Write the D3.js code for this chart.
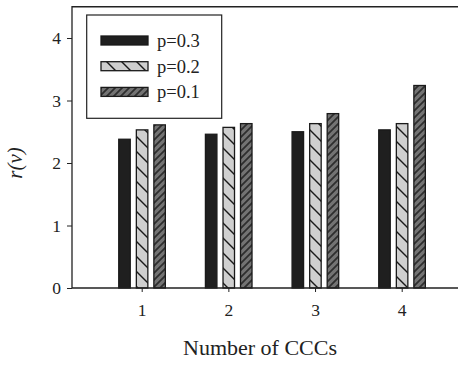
<!DOCTYPE html>
<html>
<head>
<meta charset="utf-8">
<script src="https://cdn.jsdelivr.net/npm/d3@7"></script>
<style>
  body { margin: 0; background: #fff; }
  text { font-family: "Liberation Serif", "DejaVu Serif", serif; fill: #222; }
</style>
</head>
<body>
<div id="container"></div>
<script>
const categories = [1, 2, 3, 4];
const seriesNames = ["p=0.3", "p=0.2", "p=0.1"];
const p03 = [2.38, 2.46, 2.50, 2.53];
const p02 = [2.53, 2.57, 2.63, 2.63];
const p01 = [2.61, 2.63, 2.79, 3.24];
const yTicks = [0, 1, 2, 3, 4];

function init() {
  const width = 458;
  const height = 368;
  const left = 72;
  const right = 458;
  const bottom = 288;
  const top = 6.75;

  const svg = d3.select("#container").append("svg")
    .attr("width", width)
    .attr("height", height);

  const defs = svg.append("defs");

  // light gray, back-slash hatch
  const pat1 = defs.append("pattern")
    .attr("id", "hatchLight")
    .attr("patternUnits", "userSpaceOnUse")
    .attr("width", 15).attr("height", 15);
  pat1.append("rect").attr("width", 15).attr("height", 15).attr("fill", "#cfcfcf");
  pat1.append("path")
    .attr("d", "M-2,-2L17,17M-2,13L2,17M13,-2L17,2")
    .attr("stroke", "#1a1a1a").attr("stroke-width", 1.4);

  // dark gray, forward-slash hatch
  const pat2 = defs.append("pattern")
    .attr("id", "hatchDark")
    .attr("patternUnits", "userSpaceOnUse")
    .attr("width", 7).attr("height", 7);
  pat2.append("rect").attr("width", 7).attr("height", 7).attr("fill", "#737373");
  pat2.append("path")
    .attr("d", "M-1,8L8,-1M-2,2L2,-2M5,9L9,5")
    .attr("stroke", "#2e2e2e").attr("stroke-width", 1.8);

  const fills = ["#1f1f1f", "url(#hatchLight)", "url(#hatchDark)"];
  const offsets = [-17.2, 0.4, 17.9];
  const barW = 11.5;

  const x = d3.scaleLinear().domain([1, 4]).range([141.7, 401.7]);
  const y = d3.scaleLinear().domain([0, 4.5]).range([bottom, top]);

  const series = [p03, p02, p01];

  // bars
  series.forEach((vals, si) => {
    svg.append("g").selectAll("rect")
      .data(categories.map((c, i) => ({ c, v: vals[i] })))
      .join("rect")
      .attr("x", d => x(d.c) + offsets[si] - barW / 2)
      .attr("y", d => y(d.v))
      .attr("width", barW)
      .attr("height", d => y(0) - y(d.v))
      .attr("fill", fills[si])
      .attr("stroke", "#1a1a1a")
      .attr("stroke-width", 1.3);
  });

  // axes
  const yAxis = d3.axisLeft(y).tickValues(yTicks).tickSize(5).tickPadding(6).tickFormat(d3.format("d"));
  const gy = svg.append("g").attr("transform", `translate(${left},0)`).call(yAxis);
  gy.select(".domain").remove();
  gy.selectAll("text").style("font-size", "17.5px").attr("fill", "#222");
  gy.selectAll("line").attr("stroke", "#222");

  const xAxis = d3.axisBottom(x).tickValues(categories).tickSize(4).tickPadding(12).tickFormat(d3.format("d"));
  const gx = svg.append("g").attr("transform", `translate(0,${bottom})`).call(xAxis);
  gx.select(".domain").remove();
  gx.selectAll("text").style("font-size", "17.5px").attr("fill", "#222");
  gx.selectAll("line").attr("stroke", "#222");

  // frame: left, bottom, top spines
  svg.append("path")
    .attr("d", `M${right},${top}H${left}V${bottom}H${right}`)
    .attr("fill", "none")
    .attr("stroke", "#222")
    .attr("stroke-width", 1.3);

  // axis titles
  svg.append("text")
    .attr("x", 260).attr("y", 355)
    .attr("text-anchor", "middle")
    .style("font-size", "22px")
    .text("Number of CCCs");

  svg.append("text")
    .attr("transform", "translate(22,163) rotate(-90)")
    .attr("text-anchor", "middle")
    .style("font-size", "21px")
    .style("font-style", "italic")
    .text("r(v)");

  // legend
  const lg = svg.append("g");
  lg.append("rect")
    .attr("x", 86.7).attr("y", 15)
    .attr("width", 135).attr("height", 103.3)
    .attr("fill", "#fff")
    .attr("stroke", "#222").attr("stroke-width", 1.2);
  seriesNames.forEach((name, i) => {
    const yy = 36 + i * 25.7;
    lg.append("rect")
      .attr("x", 101).attr("y", yy)
      .attr("width", 47).attr("height", 9)
      .attr("fill", fills[i])
      .attr("stroke", "#1a1a1a").attr("stroke-width", 1.3);
    lg.append("text")
      .attr("x", 157).attr("y", yy + 11)
      .style("font-size", "18.5px")
      .text(name);
  });
}

document.addEventListener("DOMContentLoaded", init);
</script>
</body>
</html>
